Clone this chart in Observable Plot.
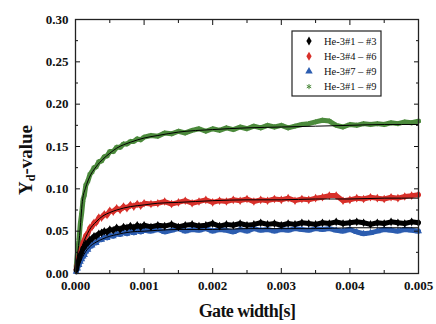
<!DOCTYPE html>
<html>
<head>
<meta charset="utf-8">
<script src="https://cdn.jsdelivr.net/npm/d3@7"></script>
<script src="https://cdn.jsdelivr.net/npm/@observablehq/plot@0.6"></script>
<style>
  html, body { margin: 0; padding: 0; background: white; }
  #chart { width: 436px; height: 324px; }
</style>
</head>
<body>
<div id="chart"></div>
<script>
// ---- data ----
const seriesNames = ["He-3#1 – #3", "He-3#4 – #6", "He-3#7 – #9", "He-3#1 – #9"];
const seriesColors = ["#000000", "#d8302a", "#2c5db0", "#4c8a3c"];
const seriesSymbols = ["diamond", "diamond", "triangle", "asterisk"];

const xTicks = [0, 0.001, 0.002, 0.003, 0.004, 0.005];
const xMinorTicks = [0.0005, 0.0015, 0.0025, 0.0035, 0.0045];
const yTicks = [0, 0.05, 0.10, 0.15, 0.20, 0.25, 0.30];
const yMinorTicks = [0.025, 0.075, 0.125, 0.175, 0.225, 0.275];

const gateWidth = [
  0.00001, 0.00003, 0.00005, 0.00007, 0.00009, 0.00011, 0.00013, 0.00015, 0.00018, 0.00021,
  0.00024, 0.00027, 0.0003, 0.00034, 0.00038, 0.00042, 0.00046, 0.0005, 0.00055, 0.0006,
  0.00065, 0.0007, 0.00075, 0.0008, 0.00085, 0.0009, 0.00095, 0.001,
  0.0011, 0.0012, 0.0013, 0.0014, 0.0015, 0.0016, 0.0017, 0.0018, 0.0019, 0.002,
  0.0021, 0.0022, 0.0023, 0.0024, 0.0025, 0.0026, 0.0027, 0.0028, 0.0029, 0.003,
  0.0031, 0.0032, 0.0033, 0.0034, 0.0035, 0.0036, 0.0037, 0.0038, 0.0039, 0.004,
  0.0041, 0.0042, 0.0043, 0.0044, 0.0045, 0.0046, 0.0047, 0.0048, 0.0049, 0.005
];
const yd13 = [
  0.004, 0.011, 0.016, 0.022, 0.025, 0.030, 0.031, 0.035, 0.036, 0.040,
  0.041, 0.044, 0.044, 0.047, 0.048, 0.050, 0.049, 0.052, 0.051, 0.054,
  0.052, 0.055, 0.054, 0.056, 0.054, 0.057, 0.055, 0.057,
  0.055, 0.057, 0.056, 0.058, 0.055, 0.057, 0.058, 0.056, 0.057, 0.059,
  0.056, 0.058, 0.057, 0.059, 0.057, 0.058, 0.060, 0.058, 0.059, 0.057,
  0.059, 0.058, 0.060, 0.059, 0.058, 0.060, 0.059, 0.061, 0.059, 0.060,
  0.061, 0.060, 0.058, 0.060, 0.059, 0.061, 0.060, 0.059, 0.061, 0.060
];
const yd46 = [
  0.005, 0.013, 0.020, 0.027, 0.030, 0.037, 0.040, 0.045, 0.047, 0.054,
  0.055, 0.060, 0.060, 0.066, 0.066, 0.070, 0.069, 0.074, 0.073, 0.077,
  0.075, 0.079, 0.077, 0.081, 0.079, 0.082, 0.080, 0.083,
  0.082, 0.083, 0.085, 0.082, 0.084, 0.086, 0.083, 0.085, 0.087, 0.084,
  0.086, 0.085, 0.087, 0.086, 0.088, 0.085, 0.087, 0.086, 0.088, 0.087,
  0.089, 0.086, 0.088, 0.087, 0.089, 0.090, 0.092, 0.092, 0.086, 0.087,
  0.089, 0.088, 0.090, 0.089, 0.088, 0.090, 0.089, 0.091, 0.092, 0.093
];
const yd79 = [
  0.002, 0.006, 0.010, 0.014, 0.017, 0.020, 0.022, 0.026, 0.028, 0.032,
  0.033, 0.036, 0.036, 0.040, 0.040, 0.043, 0.042, 0.045, 0.044, 0.047,
  0.046, 0.049, 0.047, 0.050, 0.048, 0.051, 0.049, 0.051,
  0.050, 0.052, 0.049, 0.051, 0.053, 0.050, 0.052, 0.051, 0.053, 0.050,
  0.052, 0.051, 0.049, 0.052, 0.050, 0.053, 0.051, 0.052, 0.050, 0.052,
  0.051, 0.053, 0.052, 0.051, 0.053, 0.052, 0.053, 0.051, 0.050, 0.052,
  0.049, 0.047, 0.048, 0.050, 0.052, 0.051, 0.050, 0.052, 0.051, 0.050
];
const yd19 = [
  0.008, 0.025, 0.039, 0.059, 0.071, 0.087, 0.093, 0.104, 0.109, 0.117,
  0.120, 0.125, 0.126, 0.132, 0.133, 0.138, 0.139, 0.144, 0.144, 0.149,
  0.149, 0.153, 0.153, 0.156, 0.156, 0.159, 0.158, 0.161,
  0.163, 0.162, 0.166, 0.165, 0.168, 0.166, 0.169, 0.171, 0.168, 0.171,
  0.169, 0.172, 0.170, 0.173, 0.171, 0.174, 0.172, 0.175, 0.173, 0.175,
  0.172, 0.174, 0.176, 0.177, 0.179, 0.181, 0.180, 0.175, 0.173, 0.176,
  0.175, 0.177, 0.176, 0.177, 0.176, 0.178, 0.177, 0.179, 0.178, 0.180
];

// fitted curves
const fitGate = [0, 0.00003, 0.00006, 0.0001, 0.00015, 0.0002, 0.0003, 0.0004, 0.0005, 0.0006,
  0.0008, 0.001, 0.0012, 0.0015, 0.002, 0.0025, 0.003, 0.0035, 0.004, 0.0045, 0.005];
const fit13 = [0, 0.010, 0.018, 0.027, 0.034, 0.039, 0.045, 0.049, 0.051, 0.053,
  0.055, 0.056, 0.056, 0.057, 0.057, 0.058, 0.058, 0.059, 0.059, 0.059, 0.059];
const fit46 = [0, 0.012, 0.022, 0.033, 0.043, 0.051, 0.061, 0.068, 0.072, 0.075,
  0.079, 0.081, 0.083, 0.084, 0.086, 0.087, 0.087, 0.088, 0.088, 0.089, 0.089];
const fit79 = [0, 0.007, 0.012, 0.019, 0.026, 0.031, 0.037, 0.041, 0.044, 0.046,
  0.049, 0.050, 0.051, 0.052, 0.052, 0.053, 0.053, 0.053, 0.054, 0.054, 0.054];
const fit19 = [0, 0.022, 0.045, 0.085, 0.102, 0.113, 0.126, 0.135, 0.142, 0.148,
  0.155, 0.160, 0.163, 0.167, 0.170, 0.172, 0.173, 0.174, 0.175, 0.176, 0.176];

// ---- build tables ----
const dataSets = [yd13, yd46, yd79, yd19];
const fitSets = [fit13, fit46, fit79, fit19];
const tables = dataSets.map((ys, i) => ys.map((v, j) => ({x: gateWidth[j], y: v, s: seriesNames[i]})));
const fitTables = fitSets.map((ys, i) => ys.map((v, j) => ({x: fitGate[j], y: v, s: seriesNames[i]})));

const drawOrder = [3, 1, 2, 0];
const dataMarks = [];
for (const i of drawOrder) {
  dataMarks.push(Plot.line(tables[i], {x: "x", y: "y", stroke: seriesColors[i], strokeWidth: 5, curve: "linear", strokeLinejoin: "round"}));
  if (seriesSymbols[i] === "asterisk") {
    dataMarks.push(Plot.dot(tables[i], {x: "x", y: "y", symbol: "asterisk", stroke: seriesColors[i], r: 2.4, strokeWidth: 1}));
  } else {
    dataMarks.push(Plot.dot(tables[i], {x: "x", y: "y", symbol: seriesSymbols[i], fill: seriesColors[i], r: 2.6}));
  }
}
const fitMarks = fitTables.map(t => Plot.line(t, {x: "x", y: "y", stroke: "#000", strokeWidth: 1, curve: "monotone-x"}));

const blank = () => "";
const chart = Plot.plot({
  width: 436,
  height: 324,
  marginLeft: 75,
  marginRight: 18,
  marginTop: 19,
  marginBottom: 51,
  x: {domain: [0, 0.005]},
  y: {domain: [0, 0.30]},
  style: {fontFamily: "'Liberation Serif', 'DejaVu Serif', serif", fontWeight: "bold", fontSize: "13px", background: "white", color: "#111"},
  marks: [
    ...dataMarks,
    ...fitMarks,
    Plot.axisX({ticks: xTicks, tickFormat: d => d.toFixed(3), tickSize: 0, tickPadding: 7, label: null}),
    Plot.axisY({ticks: yTicks, tickFormat: d => d.toFixed(2), tickSize: 0, tickPadding: 7, label: null}),
    Plot.axisX({anchor: "bottom", ticks: xTicks, tickSize: -5, tickFormat: blank, label: null}),
    Plot.axisX({anchor: "bottom", ticks: xMinorTicks, tickSize: -3, tickFormat: blank, label: null}),
    Plot.axisX({anchor: "top", ticks: xTicks, tickSize: -5, tickFormat: blank, label: null}),
    Plot.axisX({anchor: "top", ticks: xMinorTicks, tickSize: -3, tickFormat: blank, label: null}),
    Plot.axisY({anchor: "left", ticks: yTicks, tickSize: -5, tickFormat: blank, label: null}),
    Plot.axisY({anchor: "left", ticks: yMinorTicks, tickSize: -3, tickFormat: blank, label: null}),
    Plot.axisY({anchor: "right", ticks: yTicks, tickSize: -5, tickFormat: blank, label: null}),
    Plot.axisY({anchor: "right", ticks: yMinorTicks, tickSize: -3, tickFormat: blank, label: null}),
    Plot.frame({stroke: "#222", strokeWidth: 1.3})
  ]
});
document.getElementById("chart").appendChild(chart);

// ---- axis titles & legend ----
const svg = d3.select(chart);
const serif = "'Liberation Serif', 'DejaVu Serif', serif";
svg.append("text")
  .attr("x", 247).attr("y", 317)
  .attr("text-anchor", "middle")
  .attr("font-family", serif).attr("font-weight", "bold").attr("font-size", 18)
  .attr("letter-spacing", -0.6)
  .attr("fill", "#111")
  .text("Gate width[s]");

const yt = svg.append("text")
  .attr("transform", "translate(32,160) rotate(-90)")
  .attr("text-anchor", "middle")
  .attr("font-family", serif).attr("font-weight", "bold").attr("font-size", 19)
  .attr("fill", "#111");
yt.append("tspan").text("Y");
yt.append("tspan").attr("font-size", 12).attr("dy", 3).text("d");
yt.append("tspan").attr("dy", -3).text("-value");

const lg = svg.append("g");
lg.append("rect").attr("x", 292).attr("y", 31).attr("width", 89).attr("height", 65)
  .attr("fill", "white").attr("stroke", "#222").attr("stroke-width", 1.2);
const symMap = {diamond: d3.symbolDiamond, triangle: d3.symbolTriangle, asterisk: d3.symbolAsterisk};
seriesNames.forEach((name, i) => {
  const cy = 41 + i * 15.2;
  const p = lg.append("path")
    .attr("transform", `translate(309,${cy})`)
    .attr("d", d3.symbol(symMap[seriesSymbols[i]], seriesSymbols[i] === "asterisk" ? 18 : 24)());
  if (seriesSymbols[i] === "asterisk") p.attr("fill", "none").attr("stroke", seriesColors[i]).attr("stroke-width", 1);
  else p.attr("fill", seriesColors[i]);
  lg.append("text").attr("x", 324).attr("y", cy + 3.8)
    .attr("text-anchor", "start")
    .attr("font-family", serif).attr("font-weight", "normal").attr("font-size", 10.5).attr("fill", "#111")
    .text(name);
});
</script>
</body>
</html>
